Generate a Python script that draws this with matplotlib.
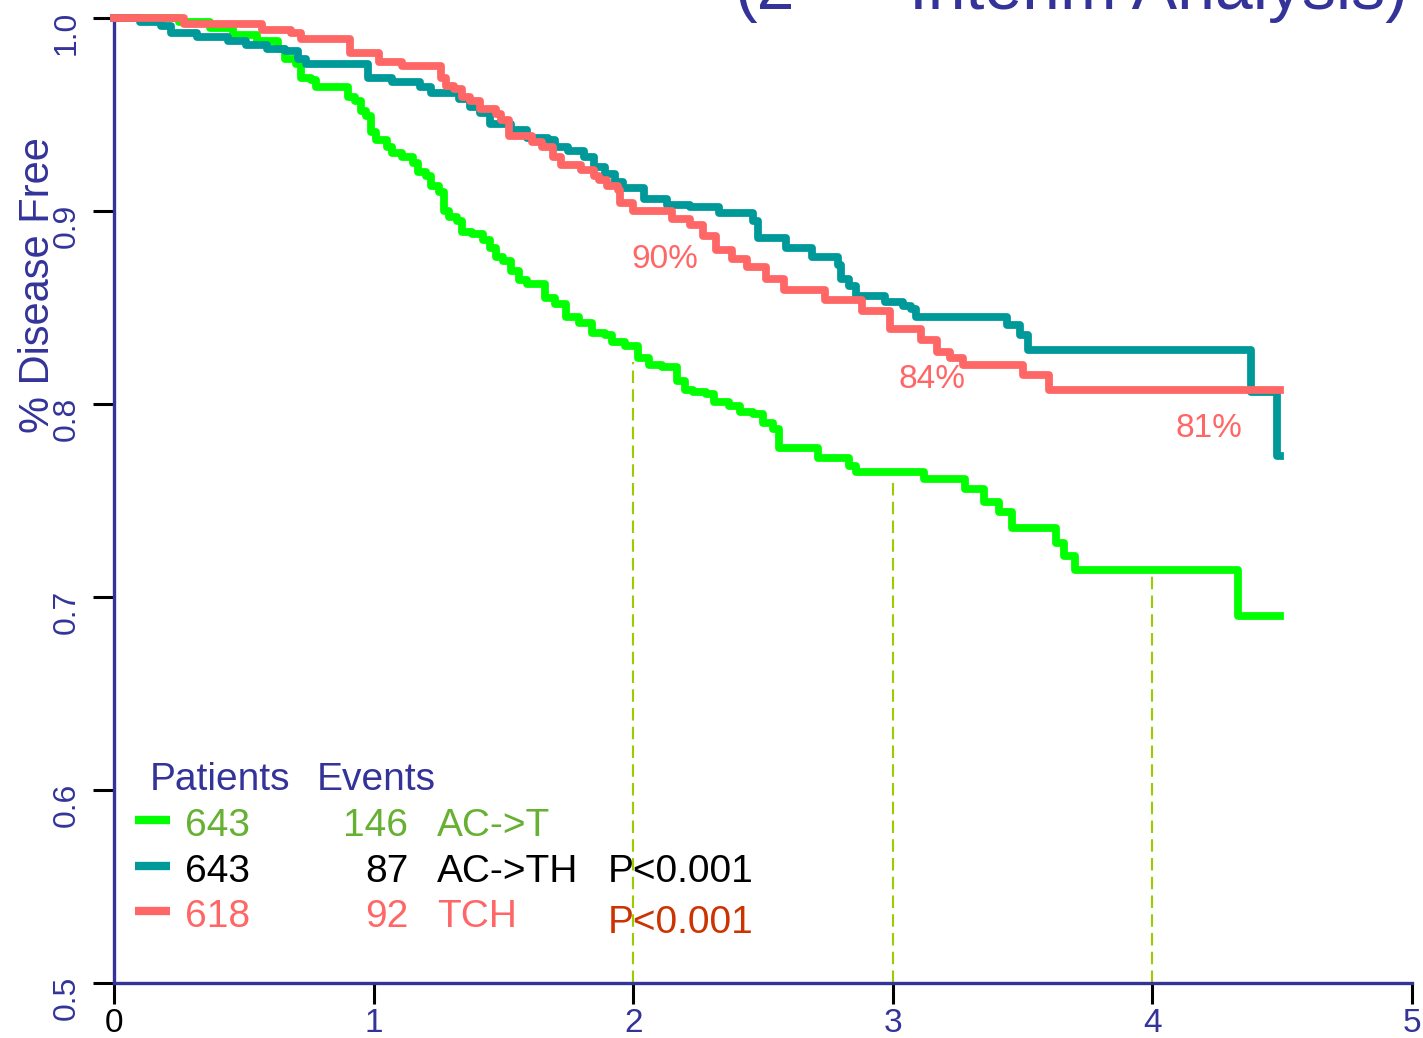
"""Disease-free survival by arm (Kaplan-Meier style step curves)."""

import matplotlib

matplotlib.use("Agg")
import matplotlib.pyplot as plt
import matplotlib.transforms as mtransforms
import numpy as np

# ---------------------------------------------------------------------------
# Data
# ---------------------------------------------------------------------------

# AC->T
act_t = [0, 0.25, 0.37, 0.46, 0.55, 0.63, 0.66, 0.70, 0.72, 0.76, 0.78, 0.90, 0.93,
         0.95, 0.97, 0.99, 1.01, 1.05, 1.07, 1.11, 1.15, 1.17, 1.20, 1.22, 1.25,
         1.27, 1.29, 1.32, 1.34, 1.38, 1.42, 1.45, 1.47, 1.50, 1.53, 1.56, 1.59,
         1.66, 1.70, 1.74, 1.79, 1.84, 1.89, 1.92, 1.97, 2.02, 2.06, 2.11, 2.17,
         2.20, 2.23, 2.28, 2.31, 2.37, 2.41, 2.46, 2.50, 2.54, 2.56, 2.71, 2.83,
         2.86, 3.12, 3.28, 3.35, 3.41, 3.46, 3.63, 3.66, 3.70, 4.33]
act_s = [1.0, 0.998, 0.995, 0.991, 0.988, 0.984, 0.979, 0.976, 0.969, 0.968, 0.964,
         0.959, 0.957, 0.952, 0.949, 0.941, 0.937, 0.933, 0.930, 0.928, 0.925,
         0.920, 0.918, 0.913, 0.910, 0.900, 0.897, 0.895, 0.889, 0.888, 0.885,
         0.881, 0.876, 0.874, 0.869, 0.864, 0.862, 0.855, 0.852, 0.845, 0.842,
         0.837, 0.836, 0.832, 0.830, 0.824, 0.820, 0.819, 0.812, 0.807, 0.806,
         0.805, 0.801, 0.799, 0.796, 0.795, 0.790, 0.787, 0.777, 0.772, 0.768,
         0.765, 0.761, 0.756, 0.749, 0.744, 0.736, 0.728, 0.721, 0.714, 0.690]
act_end = 4.49

# AC->TH
acth_t = [0, 0.10, 0.18, 0.22, 0.32, 0.44, 0.51, 0.59, 0.66, 0.71, 0.74, 0.98, 1.07,
          1.18, 1.22, 1.33, 1.37, 1.41, 1.45, 1.53, 1.59, 1.67, 1.70, 1.75, 1.81,
          1.85, 1.89, 1.93, 1.96, 2.04, 2.13, 2.22, 2.33, 2.46, 2.48, 2.59, 2.69,
          2.79, 2.80, 2.83, 2.86, 2.97, 3.04, 3.07, 3.09, 3.44, 3.49, 3.52, 4.38,
          4.48]
acth_s = [1.0, 0.998, 0.996, 0.992, 0.990, 0.988, 0.986, 0.984, 0.983, 0.979, 0.976,
          0.969, 0.967, 0.964, 0.961, 0.958, 0.954, 0.951, 0.945, 0.942, 0.938,
          0.937, 0.933, 0.931, 0.928, 0.923, 0.919, 0.915, 0.912, 0.906, 0.903,
          0.902, 0.899, 0.895, 0.886, 0.881, 0.876, 0.872, 0.865, 0.861, 0.856,
          0.853, 0.851, 0.849, 0.845, 0.841, 0.836, 0.828, 0.806, 0.773]
acth_end = 4.49

# TCH
tch_t = [0, 0.27, 0.57, 0.68, 0.72, 0.91, 1.02, 1.11, 1.26, 1.28, 1.31, 1.34, 1.37,
         1.41, 1.47, 1.49, 1.52, 1.61, 1.65, 1.69, 1.72, 1.80, 1.85, 1.87, 1.90,
         1.94, 1.95, 2.00, 2.15, 2.22, 2.27, 2.32, 2.38, 2.44, 2.51, 2.58, 2.74,
         2.88, 2.99, 3.11, 3.17, 3.22, 3.27, 3.50, 3.60]
tch_s = [1.0, 0.997, 0.994, 0.992, 0.989, 0.982, 0.977, 0.975, 0.969, 0.965, 0.963,
         0.959, 0.957, 0.953, 0.950, 0.947, 0.939, 0.936, 0.933, 0.928, 0.924,
         0.921, 0.918, 0.916, 0.913, 0.911, 0.904, 0.900, 0.896, 0.893, 0.887,
         0.880, 0.875, 0.871, 0.865, 0.859, 0.854, 0.848, 0.839, 0.833, 0.827,
         0.824, 0.820, 0.815, 0.807]
tch_end = 4.49

arm_names = ["AC->T", "AC->TH", "TCH"]
arm_patients = [643, 643, 618]
arm_events = [146, 87, 92]
p_values = ["P<0.001", "P<0.001"]

# landmark years and the DFS rates printed for TCH
landmark_years = [2, 3, 4]
landmark_tops = [0.822, 0.762, 0.711]
pct_labels = ["90%", "84%", "81%"]
pct_x = [2.122, 3.151, 4.218]
pct_y = [0.8705, 0.8083, 0.7829]

x_ticks = [0, 1, 2, 3, 4, 5]
y_ticks = [0.5, 0.6, 0.7, 0.8, 0.9, 1.0]

# ---------------------------------------------------------------------------
# Style
# ---------------------------------------------------------------------------

NAVY = "#333399"
LINE_COLORS = ["#00ff00", "#009999", "#ff6666"]
TEXT_COLORS = ["#66b032", "#000000", "#ff6666"]
P_COLORS = ["#000000", "#cc3300"]
DASH_COLOR = "#9acd00"

plt.rcParams["font.family"] = ["Liberation Sans", "DejaVu Sans"]

fig = plt.figure(figsize=(14.23, 10.38), dpi=100)
ax = fig.add_axes([114 / 1423, 1 - 983 / 1038, (1412 - 114) / 1423, (983 - 18) / 1038])

# landmark guides
for yr, top in zip(landmark_years, landmark_tops):
    ax.plot([yr, yr], [0.5, top], color=DASH_COLOR, linewidth=1.5,
            linestyle=(0, (6, 3)), zorder=1)

# survival curves (green under teal under salmon)
arms = [(act_t, act_s, act_end), (acth_t, acth_s, acth_end), (tch_t, tch_s, tch_end)]
for (t, s, end), color in zip(arms, LINE_COLORS):
    tt = np.append(t, end)
    ss = np.append(s, s[-1])
    ax.step(tt, ss, where="post", color=color, linewidth=5.6,
            solid_joinstyle="round", clip_on=False, zorder=3)

for label, x, y in zip(pct_labels, pct_x, pct_y):
    ax.text(x, y, label, color="#ff6666", fontsize=24, ha="center", va="baseline")

# ---------------------------------------------------------------------------
# Legend block
# ---------------------------------------------------------------------------

ax.text(0.139, 0.600, "Patients", color=NAVY, fontsize=28, va="baseline")
ax.text(0.782, 0.600, "Events", color=NAVY, fontsize=28, va="baseline")

row_baselines = [0.5762, 0.5523, 0.5290]
for i, base in enumerate(row_baselines):
    ax.plot([0.081, 0.216], [base + 0.0085] * 2, color=LINE_COLORS[i],
            linewidth=6, solid_capstyle="butt", zorder=4)
    ax.text(0.274, base, str(arm_patients[i]), color=TEXT_COLORS[i], fontsize=28,
            va="baseline")
    ax.text(1.133, base, str(arm_events[i]), color=TEXT_COLORS[i], fontsize=28,
            ha="right", va="baseline")
    ax.text(1.244, base, arm_names[i], color=TEXT_COLORS[i], fontsize=28,
            va="baseline")

p_baselines = [0.5523, 0.5259]
for p, base, color in zip(p_values, p_baselines, P_COLORS):
    ax.text(1.903, base, p, color=color, fontsize=28, va="baseline")

# ---------------------------------------------------------------------------
# Axes
# ---------------------------------------------------------------------------

ax.set_xlim(0, 5)
ax.set_ylim(0.5, 1.0)
for side in ("top", "right"):
    ax.spines[side].set_visible(False)
for side in ("left", "bottom"):
    ax.spines[side].set_color(NAVY)
    ax.spines[side].set_linewidth(2.4)

ax.set_xticks(x_ticks)
ax.set_xticklabels([str(v) for v in x_ticks], fontsize=24, color=NAVY)
ax.get_xticklabels()[0].set_color("black")
ax.set_yticks(y_ticks)
ax.set_yticklabels([f"{v:.1f}" for v in y_ticks], fontsize=23, color=NAVY,
                   rotation=90, va="center")
ax.tick_params(direction="out", length=15, width=2.2, color="black")
ax.tick_params(axis="x", pad=3)
ax.tick_params(axis="y", pad=8)

shift = mtransforms.ScaledTranslation(0, -0.15, fig.dpi_scale_trans)
for lbl in ax.get_yticklabels():
    lbl.set_transform(lbl.get_transform() + shift)

fig.text(38 / 1423 + 0.008, 1 - 285 / 1038, "% Disease Free", color=NAVY, fontsize=30,
         rotation=90, ha="center", va="baseline", rotation_mode="anchor")

# title, mostly cut off by the top edge in the source
fig.text(735 / 1423, 1 - 9 / 1038, "(2", color=NAVY, fontsize=49, va="baseline")
fig.text(800 / 1423, 1 - 9 / 1038 + 0.03, "nd", color=NAVY, fontsize=30, va="baseline")
fig.text(1408 / 1423, 1 - 9 / 1038, "Interim Analysis)", color=NAVY, fontsize=49,
         ha="right", va="baseline")

fig.savefig("out.png", dpi=100, facecolor="white")
